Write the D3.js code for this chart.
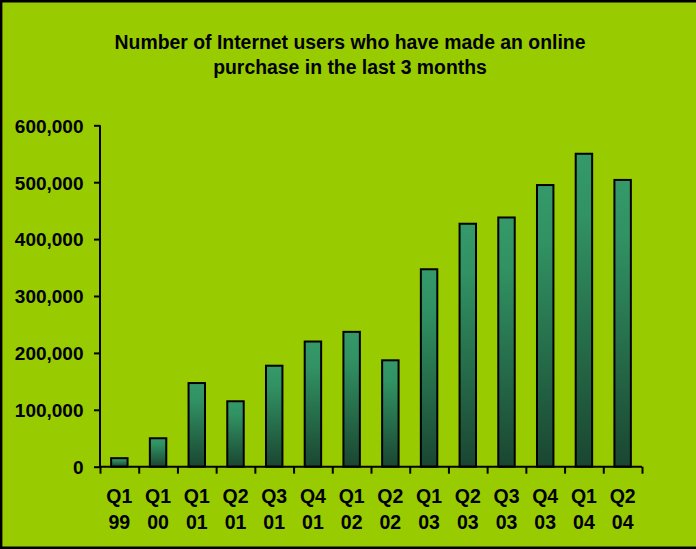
<!DOCTYPE html>
<html>
<head>
<meta charset="utf-8">
<script src="https://cdn.jsdelivr.net/npm/d3@7"></script>
<style>
  html, body { margin: 0; padding: 0; background: #99cc00; }
  svg { display: block; }
  text { font-family: "Liberation Sans", Arial, sans-serif; font-weight: bold; fill: #000; }
</style>
</head>
<body>
<script>
// Quarterly labels (two lines each) and purchaser counts
const quarters = ["Q1", "Q1", "Q1", "Q2", "Q3", "Q4", "Q1", "Q2", "Q1", "Q2", "Q3", "Q4", "Q1", "Q2"];
const years = ["99", "00", "01", "01", "01", "01", "02", "02", "03", "03", "03", "03", "04", "04"];
const users = [15000, 50000, 147000, 115000, 177500, 220000, 237000, 187000, 347000, 427000, 438000, 495000, 550000, 504000];
const yTicks = [0, 100000, 200000, 300000, 400000, 500000, 600000];
const titleLines = ["Number of Internet users who have made an online", "purchase in the last 3 months"];

const W = 696, H = 549;
const plot = { left: 100, right: 642, top: 125.3, bottom: 466.7 };

const svg = d3.select("body").append("svg").attr("width", W).attr("height", H);

// background and frame (top, left, bottom edges)
svg.append("rect").attr("width", W).attr("height", H).attr("fill", "#99cc00");
svg.append("path")
  .attr("d", `M${W},1.2 H1.2 V547.8 H${W}`)
  .attr("fill", "none").attr("stroke", "#000").attr("stroke-width", 2.4);

// vertical gradient for the bars
const grad = svg.append("defs").append("linearGradient")
  .attr("id", "barFill").attr("x1", 0).attr("y1", 0).attr("x2", 0).attr("y2", 1);
grad.append("stop").attr("offset", "0%").attr("stop-color", "#35996a");
grad.append("stop").attr("offset", "20%").attr("stop-color", "#319263");
grad.append("stop").attr("offset", "100%").attr("stop-color", "#1a4631");

// title
const title = svg.append("text").attr("text-anchor", "middle").style("font-size", "19.4px");
titleLines.forEach((line, i) => {
  title.append("tspan").attr("x", 350).attr("y", 48.5 + i * 25).text(line);
});

const idx = d3.range(users.length);
const x = d3.scaleBand().domain(idx).range([plot.left, plot.right]).paddingInner(0.575).paddingOuter(0.2875);
const y = d3.scaleLinear().domain([0, 600000]).range([plot.bottom, plot.top]);

// bars
svg.append("g").selectAll("rect").data(idx).join("rect")
  .attr("x", i => x(i))
  .attr("y", i => y(users[i]))
  .attr("width", x.bandwidth())
  .attr("height", i => y(0) - y(users[i]))
  .attr("fill", "url(#barFill)")
  .attr("stroke", "#000").attr("stroke-width", 2);

// y axis
const yAxis = svg.append("g").attr("transform", `translate(${plot.left},0)`)
  .call(d3.axisLeft(y).tickValues(yTicks).tickSize(6).tickPadding(10.5).tickFormat(d3.format(",")));
yAxis.select(".domain").attr("stroke", "#000").attr("stroke-width", 2).attr("d", `M0,${plot.top}V${plot.bottom}`);
yAxis.selectAll(".tick line").attr("stroke", "#000").attr("stroke-width", 2);
yAxis.selectAll(".tick text").style("font-size", "19px").attr("font-family", null).attr("dy", "0.36em");

// x axis with ticks between categories
const xEdges = d3.scaleLinear().domain([0, users.length]).range([plot.left, plot.right]);
const xAxis = svg.append("g").attr("transform", `translate(0,${plot.bottom})`)
  .call(d3.axisBottom(xEdges).tickValues(d3.range(users.length + 1)).tickSize(7).tickFormat(""));
xAxis.select(".domain").attr("stroke", "#000").attr("stroke-width", 2).attr("d", `M${plot.left},0H${plot.right}`);
xAxis.selectAll(".tick line").attr("stroke", "#000").attr("stroke-width", 2);

// two-line category labels
const labels = svg.append("g").selectAll("text").data(idx).join("text")
  .attr("text-anchor", "middle").style("font-size", "19.5px");
labels.append("tspan").attr("x", i => x(i) + x.bandwidth() / 2).attr("y", 502.5).text(i => quarters[i]);
labels.append("tspan").attr("x", i => x(i) + x.bandwidth() / 2).attr("y", 528.5).text(i => years[i]);
</script>
</body>
</html>
